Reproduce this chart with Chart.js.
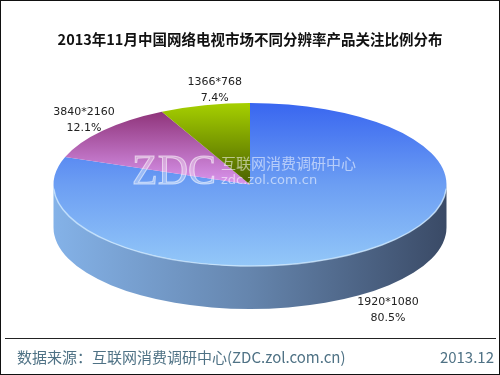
<!DOCTYPE html>
<html>
<head>
<meta charset="utf-8">
<script src="https://cdn.jsdelivr.net/npm/chart.js@4.4.1/dist/chart.umd.min.js"></script>
<style>
  html, body { margin: 0; padding: 0; background: #fff; }
  canvas { display: block; }
</style>
</head>
<body>
<canvas id="grafico" width="500" height="375"></canvas>
<script>
// Datos
const resoluciones = ["1920*1080", "3840*2160", "1366*768"];
const porcentajes = [80.5, 12.1, 7.4];
const titulo = "2013年11月中国网络电视市场不同分辨率产品关注比例分布";
const fuente = "数据来源：互联网消费调研中心(ZDC.zol.com.cn)";
const fecha = "2013.12";

// Estilos (colores de cara superior y lateral)
const coloresCara = [
  ["#3966f0", "#6c9ef3", "#93c7f8"],
  ["#86286c", "#da96ee", "#e8b4f6"],
  ["#a6d000", "#4a6000", "#3a4c00"],
];
const coloresLado = [
  ["#84b2e8", "#6585ad", "#3a4a66"],
  ["#a060b0", "#804890", "#603070"],
  ["#70900a", "#506800", "#384800"],
];
const etiquetaDesplazamiento = [[25, 16], [-19, -10], [10, -15]];

// Geometría del pastel 3D
const R = 196.5;
const CX = 250, CY = 184.5, RY = 81.5, PROF = 43;
const K = RY / R;

function gradienteCara(ctx, ay, i) {
  const g = ctx.createLinearGradient(0, ay - R, 0, ay + R);
  g.addColorStop(0, coloresCara[i][0]);
  g.addColorStop(0.5, coloresCara[i][1]);
  g.addColorStop(1, coloresCara[i][2]);
  return g;
}

const pastel3D = {
  id: "pastel3D",
  beforeDatasetsDraw(chart) {
    const ctx = chart.ctx;
    const arcos = chart.getDatasetMeta(0).data;
    // Lateral visible (mitad frontal)
    arcos.forEach((arc, i) => {
      for (let k = -1; k <= 1; k++) {
        const s = Math.max(arc.startAngle + k * 2 * Math.PI, 0);
        const e = Math.min(arc.endAngle + k * 2 * Math.PI, Math.PI);
        if (e <= s) continue;
        const g = ctx.createLinearGradient(CX - R, 0, CX + R, 0);
        g.addColorStop(0, coloresLado[i][0]);
        g.addColorStop(0.5, coloresLado[i][1]);
        g.addColorStop(1, coloresLado[i][2]);
        ctx.save();
        ctx.beginPath();
        ctx.ellipse(CX, CY, R, RY, 0, s, e, false);
        ctx.ellipse(CX, CY + PROF, R, RY, 0, e, s, true);
        ctx.closePath();
        ctx.fillStyle = g;
        ctx.fill();
        ctx.restore();
      }
    });
    // Cara superior: aplastar el círculo
    const a = arcos[0];
    ctx.save();
    ctx.translate(CX, CY);
    ctx.scale(1, K);
    ctx.translate(-a.x, -a.y);
  },
  afterDatasetsDraw(chart) {
    const ctx = chart.ctx;
    ctx.restore();
    // Brillo del borde frontal
    ctx.save();
    ctx.beginPath();
    ctx.ellipse(CX, CY, R, RY, 0, 0.05, Math.PI - 0.05);
    ctx.strokeStyle = "rgba(205,232,255,0.75)";
    ctx.lineWidth = 1.5;
    ctx.stroke();
    ctx.restore();
  },
  afterDraw(chart) {
    const ctx = chart.ctx;
    const arcos = chart.getDatasetMeta(0).data;
    ctx.save();

    // Marca de agua
    ctx.fillStyle = "rgba(255,255,255,0.35)";
    ctx.strokeStyle = "rgba(255,255,255,0.55)";
    ctx.lineWidth = 1;
    ctx.font = "42px 'Liberation Serif'";
    ctx.textBaseline = "alphabetic";
    ctx.textAlign = "left";
    ctx.fillText("ZDC", 132, 184);
    ctx.strokeText("ZDC", 132, 184);
    ctx.fillStyle = "rgba(255,255,255,0.55)";
    ctx.font = "15px 'Noto Sans CJK SC'";
    ctx.fillText("互联网消费调研中心", 221, 169);
    ctx.font = "13px 'DejaVu Sans'";
    ctx.fillText("zdc.zol.com.cn", 221, 184);

    // Etiquetas
    ctx.fillStyle = "#222";
    ctx.font = "11px 'DejaVu Sans'";
    ctx.textAlign = "center";
    ctx.textBaseline = "middle";
    arcos.forEach((arc, i) => {
      const m = (arc.startAngle + arc.endAngle) / 2;
      let px = CX + R * Math.cos(m);
      let py = CY + RY * Math.sin(m);
      if (Math.sin(m) > 0) py += PROF;
      px += etiquetaDesplazamiento[i][0];
      py += etiquetaDesplazamiento[i][1];
      ctx.fillText(resoluciones[i], px, py - 8);
      ctx.fillText(porcentajes[i].toFixed(1) + "%", px, py + 8);
    });

    // Pie de página
    ctx.strokeStyle = "#222";
    ctx.lineWidth = 1;
    ctx.beginPath();
    ctx.moveTo(5, 338.5);
    ctx.lineTo(496, 338.5);
    ctx.stroke();
    ctx.fillStyle = "#4f7285";
    ctx.font = "15px 'Noto Sans CJK SC'";
    ctx.textBaseline = "alphabetic";
    ctx.textAlign = "left";
    ctx.fillText(fuente, 17, 363);
    ctx.textAlign = "right";
    ctx.fillText(fecha, 494, 363);

    // Marco
    ctx.strokeStyle = "#111";
    ctx.strokeRect(0.5, 0.5, 499, 374);
    ctx.restore();
  },
};

new Chart(document.getElementById("grafico"), {
  type: "pie",
  data: {
    labels: resoluciones,
    datasets: [
      {
        data: porcentajes,
        radius: R,
        clip: false,
        borderWidth: 0,
        backgroundColor: function (context) {
          const chart = context.chart;
          const area = chart.chartArea;
          if (!area) return coloresCara[context.dataIndex][1];
          return gradienteCara(chart.ctx, (area.top + area.bottom) / 2, context.dataIndex);
        },
      },
    ],
  },
  options: {
    responsive: false,
    animation: false,
    events: [],
    plugins: {
      legend: { display: false },
      tooltip: { enabled: false },
      title: {
        display: true,
        text: titulo,
        color: "#111",
        font: { family: "'Noto Sans CJK SC'", size: 14.5, weight: "bold" },
        padding: { top: 31, bottom: 10 },
      },
    },
  },
  plugins: [pastel3D],
});
</script>
</body>
</html>
